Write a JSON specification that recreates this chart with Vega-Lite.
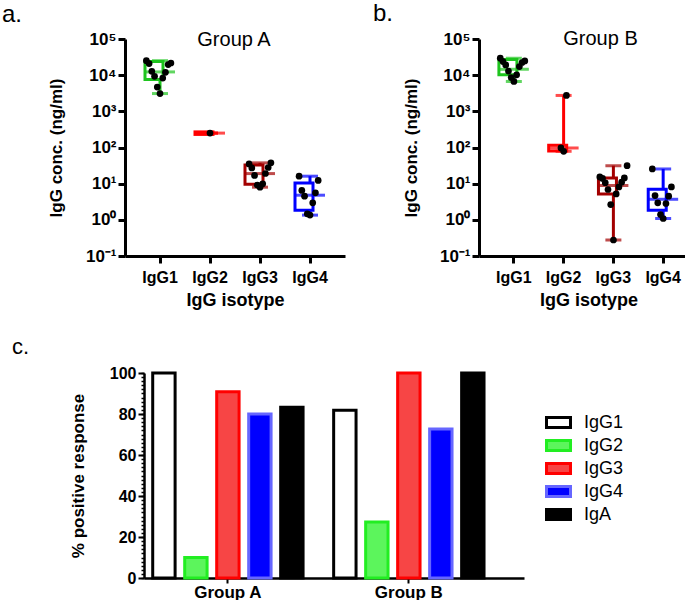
{
  "$schema": "https://vega.github.io/schema/vega-lite/v6.json",
  "padding": {"left": 1, "top": 2, "right": 0, "bottom": 0},
  "background": "white",
  "config": {
    "font": "Liberation Sans",
    "view": {"stroke": null},
    "axis": {"grid": false, "domainColor": "black", "tickColor": "black", "labelColor": "black", "titleColor": "black", "labelFontWeight": "bold", "titleFontWeight": "bold"}
  },
  "datasets": {
    "pts": [
      {"group": "A", "isotype": "IgG1", "value": 19600}, {"group": "A", "isotype": "IgG1", "value": 21700}, {"group": "A", "isotype": "IgG1", "value": 25100}, {"group": "A", "isotype": "IgG1", "value": 20900}, {"group": "A", "isotype": "IgG1", "value": 12000}, {"group": "A", "isotype": "IgG1", "value": 8300}, {"group": "A", "isotype": "IgG1", "value": 9300}, {"group": "A", "isotype": "IgG1", "value": 12800}, {"group": "A", "isotype": "IgG1", "value": 4700}, {"group": "A", "isotype": "IgG1", "value": 3100},
      {"group": "A", "isotype": "IgG2", "value": 250},
      {"group": "A", "isotype": "IgG3", "value": 27.3}, {"group": "A", "isotype": "IgG3", "value": 35.2}, {"group": "A", "isotype": "IgG3", "value": 28.0}, {"group": "A", "isotype": "IgG3", "value": 37.6}, {"group": "A", "isotype": "IgG3", "value": 19.1}, {"group": "A", "isotype": "IgG3", "value": 16.9}, {"group": "A", "isotype": "IgG3", "value": 8.0}, {"group": "A", "isotype": "IgG3", "value": 9.9}, {"group": "A", "isotype": "IgG3", "value": 9.1},
      {"group": "A", "isotype": "IgG4", "value": 16.1}, {"group": "A", "isotype": "IgG4", "value": 12.3}, {"group": "A", "isotype": "IgG4", "value": 5.6}, {"group": "A", "isotype": "IgG4", "value": 4.5}, {"group": "A", "isotype": "IgG4", "value": 6.5}, {"group": "A", "isotype": "IgG4", "value": 2.95}, {"group": "A", "isotype": "IgG4", "value": 1.35}, {"group": "A", "isotype": "IgG4", "value": 1.47},
      {"group": "B", "isotype": "IgG1", "value": 19200}, {"group": "B", "isotype": "IgG1", "value": 22400}, {"group": "B", "isotype": "IgG1", "value": 29400}, {"group": "B", "isotype": "IgG1", "value": 23800}, {"group": "B", "isotype": "IgG1", "value": 24700}, {"group": "B", "isotype": "IgG1", "value": 17300}, {"group": "B", "isotype": "IgG1", "value": 10200}, {"group": "B", "isotype": "IgG1", "value": 8600}, {"group": "B", "isotype": "IgG1", "value": 6700}, {"group": "B", "isotype": "IgG1", "value": 13000},
      {"group": "B", "isotype": "IgG2", "value": 2750}, {"group": "B", "isotype": "IgG2", "value": 78.6}, {"group": "B", "isotype": "IgG2", "value": 97},
      {"group": "B", "isotype": "IgG3", "value": 31.5}, {"group": "B", "isotype": "IgG3", "value": 14.4}, {"group": "B", "isotype": "IgG3", "value": 15.4}, {"group": "B", "isotype": "IgG3", "value": 14.0}, {"group": "B", "isotype": "IgG3", "value": 11.0}, {"group": "B", "isotype": "IgG3", "value": 10.6}, {"group": "B", "isotype": "IgG3", "value": 8.1}, {"group": "B", "isotype": "IgG3", "value": 6.9}, {"group": "B", "isotype": "IgG3", "value": 5.2}, {"group": "B", "isotype": "IgG3", "value": 2.65}, {"group": "B", "isotype": "IgG3", "value": 0.277},
      {"group": "B", "isotype": "IgG4", "value": 25.5}, {"group": "B", "isotype": "IgG4", "value": 8.1}, {"group": "B", "isotype": "IgG4", "value": 4.7}, {"group": "B", "isotype": "IgG4", "value": 4.5}, {"group": "B", "isotype": "IgG4", "value": 2.83}, {"group": "B", "isotype": "IgG4", "value": 2.96}, {"group": "B", "isotype": "IgG4", "value": 1.40}, {"group": "B", "isotype": "IgG4", "value": 1.09}
    ],
    "box": [
      {"group": "A", "isotype": "IgG1", "min": 3100, "q1": 7600, "median": 12300, "q3": 24000, "max": 25100},
      {"group": "A", "isotype": "IgG2", "min": 250, "q1": 230, "median": 250, "q3": 270, "max": 250},
      {"group": "A", "isotype": "IgG3", "min": 8.0, "q1": 9.6, "median": 19, "q3": 33, "max": 37.6},
      {"group": "A", "isotype": "IgG4", "min": 1.35, "q1": 1.85, "median": 4.8, "q3": 10.4, "max": 16.1},
      {"group": "B", "isotype": "IgG1", "min": 6700, "q1": 10300, "median": 14500, "q3": 27000, "max": 29400},
      {"group": "B", "isotype": "IgG2", "min": 78.6, "q1": 80, "median": 97, "q3": 115, "max": 2750},
      {"group": "B", "isotype": "IgG3", "min": 0.277, "q1": 5.2, "median": 8.9, "q3": 14.4, "max": 31.5},
      {"group": "B", "isotype": "IgG4", "min": 1.09, "q1": 1.85, "median": 3.7, "q3": 7.0, "max": 25.5}
    ],
    "resp": [
      {"group": "Group A", "isotype": "IgG1", "pct": 100},
      {"group": "Group A", "isotype": "IgG2", "pct": 10},
      {"group": "Group A", "isotype": "IgG3", "pct": 90.9},
      {"group": "Group A", "isotype": "IgG4", "pct": 80},
      {"group": "Group A", "isotype": "IgA", "pct": 83.3},
      {"group": "Group B", "isotype": "IgG1", "pct": 81.8},
      {"group": "Group B", "isotype": "IgG2", "pct": 27.3},
      {"group": "Group B", "isotype": "IgG3", "pct": 100},
      {"group": "Group B", "isotype": "IgG4", "pct": 72.7},
      {"group": "Group B", "isotype": "IgA", "pct": 100}
    ]
  },
  "align": "none",
  "resolve": {
    "scale": {"xOffset": "independent", "color": "independent", "fill": "independent", "stroke": "independent"},
    "legend": {"color": "independent", "fill": "independent", "stroke": "independent"}
  },
  "vconcat": [
    {
      "hconcat": [
        {
          "title": {"text": "a.", "anchor": "start", "frame": "bounds", "fontSize": 24, "fontWeight": "normal", "color": "black", "dx": -45, "offset": 3},
          "vconcat": [
            {
              "width": 220, "height": 217,
              "title": {"text": "Group A", "fontSize": 20, "fontWeight": "normal", "color": "black", "baseline": "alphabetic", "offset": -36, "dx": -1},
              "encoding": {
                "x": {"field": "isotype", "type": "nominal", "sort": ["IgG1", "IgG2", "IgG3", "IgG4"], "scale": {"paddingInner": 0.4, "paddingOuter": 0.4}, "title": "IgG isotype",
                  "axis": {"labelAngle": 0, "labelFontSize": 16, "titleFontSize": 18, "domainWidth": 3, "tickWidth": 3, "tickSize": 7, "labelPadding": 6, "titlePadding": 6}}
              },
              "layer": [
                {
                  "data": {"name": "box"},
                  "transform": [{"filter": "datum.group === 'A'"}],
                  "layer": [
                    {"mark": {"type": "rule", "strokeWidth": 3},
                     "encoding": {"y": {"field": "min", "type": "quantitative", "scale": {"type": "log", "domain": [0.1, 100000]}, "title": "IgG conc. (ng/ml)",
                       "axis": {"values": [0.1, 1, 10, 100, 1000, 10000, 100000], "labelExpr": "datum.value > 50000 ? '10⁵' : datum.value > 5000 ? '10⁴' : datum.value > 500 ? '10³' : datum.value > 50 ? '10²' : datum.value > 5 ? '10¹' : datum.value > 0.5 ? '10⁰' : '10⁻¹'", "labelFontSize": 17, "titleFontSize": 17, "domainWidth": 3, "tickWidth": 3, "tickSize": 7, "labelPadding": 2, "titleX": -60}},
                       "y2": {"field": "max"},
                       "color": {"field": "isotype", "type": "nominal", "scale": {"domain": ["IgG1", "IgG2", "IgG3", "IgG4"], "range": ["#1ec41e", "#ff0000", "#a30000", "#0000ff"]}, "legend": null}}},
                    {"mark": {"type": "bar", "fill": "white", "strokeWidth": 3},
                     "encoding": {"y": {"field": "q1", "type": "quantitative"}, "y2": {"field": "q3"},
                       "stroke": {"field": "isotype", "type": "nominal", "scale": {"domain": ["IgG1", "IgG2", "IgG3", "IgG4"], "range": ["#1ec41e", "#ff0000", "#a30000", "#0000ff"]}, "legend": null}}},
                    {"mark": {"type": "tick", "thickness": 3, "size": 30},
                     "encoding": {"y": {"field": "median", "type": "quantitative"}, "color": {"field": "isotype", "type": "nominal", "legend": null}}},
                    {"mark": {"type": "tick", "thickness": 3, "size": 16},
                     "encoding": {"y": {"field": "min", "type": "quantitative"}, "color": {"field": "isotype", "type": "nominal", "legend": null}}},
                    {"mark": {"type": "tick", "thickness": 3, "size": 16},
                     "encoding": {"y": {"field": "max", "type": "quantitative"}, "color": {"field": "isotype", "type": "nominal", "legend": null}}}
                  ]
                },
                {
                  "data": {"name": "pts"},
                  "transform": [{"filter": "datum.group === 'A'"}, {"window": [{"op": "row_number", "as": "k"}], "groupby": ["isotype"], "sort": [{"field": "value"}]}],
                  "mark": {"type": "circle", "size": 45, "color": "black", "opacity": 1},
                  "encoding": {
                    "y": {"field": "value", "type": "quantitative"},
                    "xOffset": {"field": "k", "type": "ordinal", "scale": {"type": "point", "domain": [10, 8, 6, 4, 2, 1, 3, 5, 7, 9, 11], "padding": 0.5}}
                  }
                }
              ]
            }
          ]
        },
        {
          "title": {"text": "b.", "anchor": "start", "frame": "bounds", "fontSize": 24, "fontWeight": "normal", "color": "black", "dx": -29, "offset": 3},
          "vconcat": [
            {
              "width": 219, "height": 217,
              "title": {"text": "Group B", "fontSize": 20, "fontWeight": "normal", "color": "black", "baseline": "alphabetic", "offset": -35, "dx": 12},
              "encoding": {
                "x": {"field": "isotype", "type": "nominal", "sort": ["IgG1", "IgG2", "IgG3", "IgG4"], "scale": {"paddingInner": 0.4, "paddingOuter": 0.4}, "title": "IgG isotype",
                  "axis": {"labelAngle": 0, "labelFontSize": 16, "titleFontSize": 18, "domainWidth": 3, "tickWidth": 3, "tickSize": 7, "labelPadding": 6, "titlePadding": 6}}
              },
              "layer": [
                {
                  "data": {"name": "box"},
                  "transform": [{"filter": "datum.group === 'B'"}],
                  "layer": [
                    {"mark": {"type": "rule", "strokeWidth": 3},
                     "encoding": {"y": {"field": "min", "type": "quantitative", "scale": {"type": "log", "domain": [0.1, 100000]}, "title": "IgG conc. (ng/ml)",
                       "axis": {"values": [0.1, 1, 10, 100, 1000, 10000, 100000], "labelExpr": "datum.value > 50000 ? '10⁵' : datum.value > 5000 ? '10⁴' : datum.value > 500 ? '10³' : datum.value > 50 ? '10²' : datum.value > 5 ? '10¹' : datum.value > 0.5 ? '10⁰' : '10⁻¹'", "labelFontSize": 17, "titleFontSize": 17, "domainWidth": 3, "tickWidth": 3, "tickSize": 7, "labelPadding": 2, "titleX": -59}},
                       "y2": {"field": "max"},
                       "color": {"field": "isotype", "type": "nominal", "scale": {"domain": ["IgG1", "IgG2", "IgG3", "IgG4"], "range": ["#1ec41e", "#ff0000", "#a30000", "#0000ff"]}, "legend": null}}},
                    {"mark": {"type": "bar", "fill": "white", "strokeWidth": 3},
                     "encoding": {"y": {"field": "q1", "type": "quantitative"}, "y2": {"field": "q3"},
                       "stroke": {"field": "isotype", "type": "nominal", "scale": {"domain": ["IgG1", "IgG2", "IgG3", "IgG4"], "range": ["#1ec41e", "#ff0000", "#a30000", "#0000ff"]}, "legend": null}}},
                    {"mark": {"type": "tick", "thickness": 3, "size": 30},
                     "encoding": {"y": {"field": "median", "type": "quantitative"}, "color": {"field": "isotype", "type": "nominal", "legend": null}}},
                    {"mark": {"type": "tick", "thickness": 3, "size": 16},
                     "encoding": {"y": {"field": "min", "type": "quantitative"}, "color": {"field": "isotype", "type": "nominal", "legend": null}}},
                    {"mark": {"type": "tick", "thickness": 3, "size": 16},
                     "encoding": {"y": {"field": "max", "type": "quantitative"}, "color": {"field": "isotype", "type": "nominal", "legend": null}}}
                  ]
                },
                {
                  "data": {"name": "pts"},
                  "transform": [{"filter": "datum.group === 'B'"}, {"window": [{"op": "row_number", "as": "k"}], "groupby": ["isotype"], "sort": [{"field": "value"}]}],
                  "mark": {"type": "circle", "size": 45, "color": "black", "opacity": 1},
                  "encoding": {
                    "y": {"field": "value", "type": "quantitative"},
                    "xOffset": {"field": "k", "type": "ordinal", "scale": {"type": "point", "domain": [10, 8, 6, 4, 2, 1, 3, 5, 7, 9, 11], "padding": 0.5}}
                  }
                }
              ]
            }
          ]
        }
      ],
      "spacing": 27
    },
    {
      "width": 399, "height": 205,
      "title": {"text": "c.", "anchor": "start", "frame": "bounds", "fontSize": 22, "fontWeight": "normal", "color": "black", "dx": -57, "offset": 6},
      "data": {"name": "resp"},
      "encoding": {
        "x": {"field": "group", "type": "nominal", "title": null, "scale": {"range": [19, 399], "paddingInner": 0.116, "paddingOuter": 0.108, "align": 0.1},
          "axis": {"labelAngle": 0, "labelFontSize": 17, "domainWidth": 2.5, "tickWidth": 2, "tickSize": 5, "labelPadding": 1}},
        "xOffset": {"field": "isotype", "type": "nominal", "sort": ["IgG1", "IgG2", "IgG3", "IgG4", "IgA"], "scale": {"paddingInner": 0.3, "paddingOuter": 0.15}}
      },
      "layer": [
        {
          "mark": {"type": "bar", "strokeWidth": 3},
          "encoding": {
            "y": {"field": "pct", "type": "quantitative", "stack": null, "scale": {"domain": [0, 100]}, "title": "% positive response",
              "axis": {"offset": -19, "values": [0, 20, 40, 60, 80, 100], "labelFontSize": 16, "titleFontSize": 17, "domainWidth": 2.5, "tickWidth": 2, "tickSize": 6, "labelPadding": 2, "titleX": -57}},
            "fill": {"field": "isotype", "type": "nominal", "sort": ["IgG1", "IgG2", "IgG3", "IgG4", "IgA"],
              "scale": {"domain": ["IgG1", "IgG2", "IgG3", "IgG4", "IgA"], "range": ["#ffffff", "#5cf55c", "#f74545", "#0000ff", "#000000"]},
              "legend": {"title": null, "orient": "none", "legendX": 422, "legendY": 38, "symbolType": "M-1.2,-0.5H1.2V0.5H-1.2Z", "symbolSize": 400, "symbolStrokeWidth": 3, "labelFontSize": 18, "labelFontWeight": "normal", "labelColor": "black", "labelOffset": 14, "rowPadding": -1.5}},
            "stroke": {"field": "isotype", "type": "nominal", "sort": ["IgG1", "IgG2", "IgG3", "IgG4", "IgA"],
              "scale": {"domain": ["IgG1", "IgG2", "IgG3", "IgG4", "IgA"], "range": ["#000000", "#22ee22", "#ff0000", "#6666ff", "#000000"]},
              "legend": {"title": null, "orient": "none", "legendX": 422, "legendY": 38, "symbolType": "M-1.2,-0.5H1.2V0.5H-1.2Z", "symbolSize": 400, "symbolStrokeWidth": 3, "labelFontSize": 18, "labelFontWeight": "normal", "labelColor": "black", "labelOffset": 14, "rowPadding": -1.5}}
          }
        },
        {
          "mark": {"type": "bar", "opacity": 0},
          "encoding": {
            "y": {"field": "pct", "type": "quantitative", "stack": null, "scale": {"domain": [0, 100]},
              "axis": {"orient": "left", "offset": -19, "values": [0, 2, 4, 6, 8, 10, 12, 14, 16, 18, 20, 22, 24, 26, 28, 30, 32, 34, 36, 38, 40, 42, 44, 46, 48, 50, 52, 54, 56, 58, 60, 62, 64, 66, 68, 70, 72, 74, 76, 78, 80, 82, 84, 86, 88, 90, 92, 94, 96, 98, 100], "labels": false, "domain": false, "title": null, "tickSize": 3, "tickWidth": 1.5}}
          }
        }
      ],
      "resolve": {"axis": {"y": "independent"}}
    }
  ],
  "spacing": 27
}
